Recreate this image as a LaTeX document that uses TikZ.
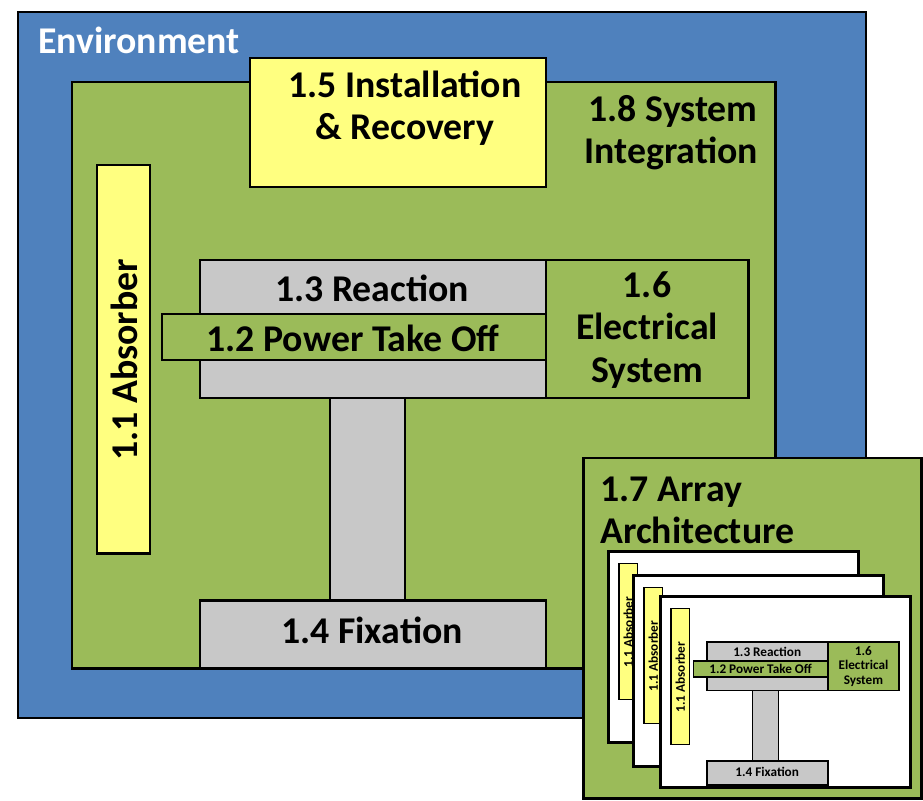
\documentclass[tikz,border=0pt]{standalone}
\usepackage{fontspec}
\setmainfont{Carlito}
\definecolor{envblue}{RGB}{79,129,189}
\definecolor{sysgreen}{RGB}{155,187,89}
\definecolor{partyellow}{RGB}{255,255,128}
\definecolor{partgray}{RGB}{200,200,200}
\tikzset{part/.style={draw=black,line width=1.7pt},
         lbl/.style={font=\bfseries\fontsize{21.5}{24}\selectfont,align=center,inner sep=0pt}}
\newcommand{\wecabsorber}[2]{%
    \draw[part,line width=#2,fill=partyellow] (97,165) rectangle (150,553);
    \node[lbl,rotate=90] (#1abs) at (124,360) {1.1 Absorber};
}
\newcommand{\weccore}[2]{%
    \draw[part,line width=#2,fill=partgray] (200,260) rectangle (546,398);
    \node[lbl] (#1rea) at (372,288) {1.3 Reaction};
    \draw[part,line width=#2,fill=sysgreen] (162,314) rectangle (546,360);
    \node[lbl] (#1pto) at (353,338) {1.2 Power Take Off};
    \draw[part,line width=#2,fill=sysgreen] (546,260) rectangle (748,398);
    \node[lbl] (#1ele) at (647,330) {1.6\\Electrical\\System};
    \draw[part,line width=#2,fill=partgray] (330,398) rectangle (405,600);
    \draw[part,line width=#2,fill=partgray] (200,600) rectangle (546,668);
    \node[lbl] (#1fix) at (372,630) {1.4 Fixation};
}

\begin{document}
\begin{tikzpicture}[x=0.02cm,y=-0.02cm]
                \useasboundingbox (0,0) rectangle (923,801);
                \draw[line width=1.2pt,fill=envblue] (18,12) rectangle (866,718);
                \node[lbl,white,anchor=west] (env) at (38,40) {Environment};
                \draw[part,fill=sysgreen] (72,82) rectangle (775,668);
                \node[lbl,align=right,anchor=east] (sys) at (758,133) {1.8 System\\Integration};
                \draw[part,fill=partyellow] (250,58) rectangle (546,187);
                \node[lbl] (ins) at (405,108) {1.5 Installation\\\& Recovery};
                \wecabsorber{}{1.7pt}
                \weccore{}{1.7pt}
                % array of devices
                \draw[part,fill=sysgreen] (583,458) rectangle (921,798);
                \node[lbl,align=left,anchor=west] (arr) at (600,510) {1.7 Array\\Architecture};
                \foreach \dx/\dy [count=\i] in {585/506,610/530,637/551}{
                    \begin{scope}[shift={(\dx,\dy)},scale=0.35,transform shape]
                        \draw[part,fill=white] (66,131) rectangle (780,677);
                        \wecabsorber{t\i}{0.8pt}
                    \end{scope}
                }
                \begin{scope}[shift={(637,551)},scale=0.35,transform shape]
                    \weccore{t3}{0.8pt}
                \end{scope}
            \end{tikzpicture}
\end{document}
